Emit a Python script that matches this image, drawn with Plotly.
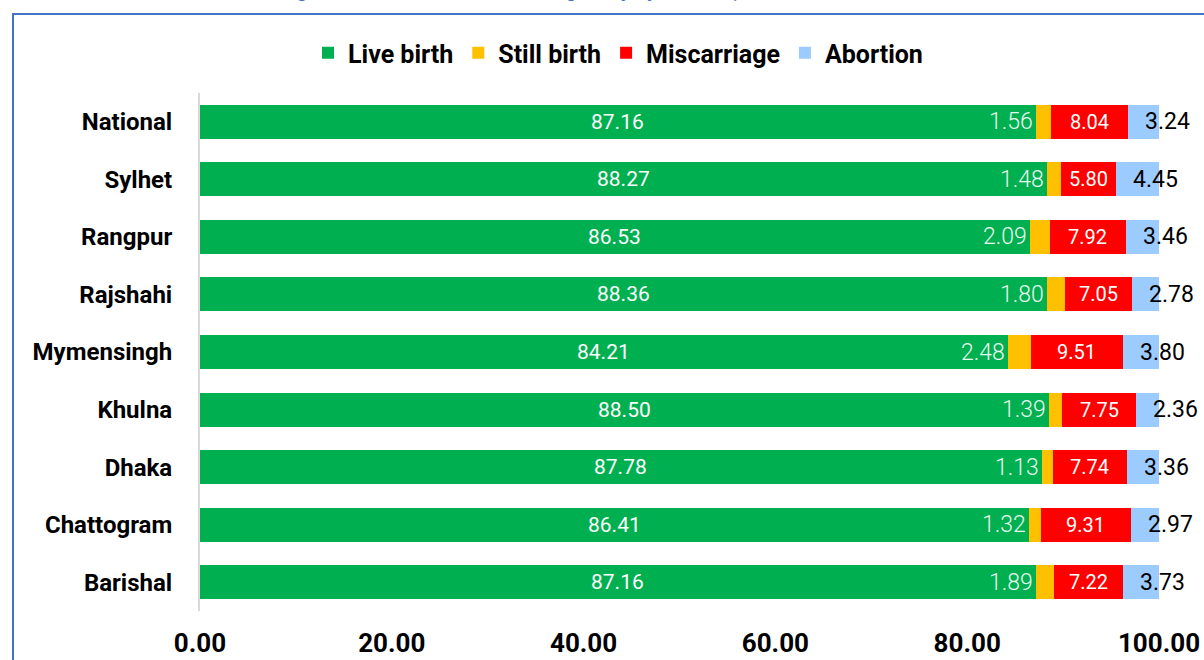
import plotly.graph_objects as go

# Pregnancy outcome shares (%) by division
divisions = ["National", "Sylhet", "Rangpur", "Rajshahi", "Mymensingh",
             "Khulna", "Dhaka", "Chattogram", "Barishal"]
live_birth = [87.16, 88.27, 86.53, 88.36, 84.21, 88.50, 87.78, 86.41, 87.16]
still_birth = [1.56, 1.48, 2.09, 1.80, 2.48, 1.39, 1.13, 1.32, 1.89]
miscarriage = [8.04, 5.80, 7.92, 7.05, 9.51, 7.75, 7.74, 9.31, 7.22]
abortion = [3.24, 4.45, 3.46, 2.78, 3.80, 2.36, 3.36, 2.97, 3.73]

x_ticks = [0, 20, 40, 60, 80, 100]
title_text = "Figure 4.2: Outcome of Last Pregnancy by Division, 2022"

GREEN, YELLOW, RED, BLUE = "#00B050", "#FFC000", "#FF0000", "#9BCBFF"
FONT = "Roboto, 'Liberation Sans Narrow', Arial, sans-serif"

W, H = 1204, 660
ML, MR, MT, MB = 200, 45, 93, 49
PW, PH = W - ML - MR, H - MT - MB


def px_x(p):
    return (p - ML) / PW


def px_y(p):
    return 1 + (MT - p) / PH


fig = go.Figure()

fig.add_bar(name="Live birth", y=divisions, x=live_birth, orientation="h",
            marker=dict(color=GREEN, line=dict(width=0)))
fig.add_bar(name="Still birth", y=divisions, x=still_birth, orientation="h",
            marker=dict(color=YELLOW, line=dict(width=0)))
fig.add_bar(name="Miscarriage", y=divisions, x=miscarriage, orientation="h",
            marker=dict(color=RED, line=dict(width=0)))
fig.add_bar(name="Abortion", y=divisions, x=abortion, orientation="h",
            marker=dict(color=BLUE, line=dict(width=0)))

annotations = []
for d, lb, sb, mc, ab in zip(divisions, live_birth, still_birth, miscarriage, abortion):
    # live-birth value centred in its segment
    annotations.append(dict(
        x=lb / 2, y=d, xref="x", yref="y", text=f"{lb:.2f}", showarrow=False,
        xanchor="center", font=dict(size=21, color="white", family=FONT),
    ))
    # still-birth value sits just left of its thin segment
    annotations.append(dict(
        x=lb, y=d, xref="x", yref="y", text=f"{sb:.2f}", showarrow=False,
        xanchor="right", xshift=-1,
        font=dict(size=23, color="#E8F7EE", family=FONT, weight=300),
    ))
    # miscarriage value centred in its segment
    annotations.append(dict(
        x=lb + sb + mc / 2, y=d, xref="x", yref="y", text=f"{mc:.2f}",
        showarrow=False, xanchor="center",
        font=dict(size=20, color="white", family=FONT),
    ))
    # abortion value starts inside its segment and runs past the bar end
    annotations.append(dict(
        x=lb + sb + mc, y=d, xref="x", yref="y", text=f"{ab:.2f}",
        showarrow=False, xanchor="left", xshift=15,
        font=dict(size=23, color="black", family=FONT),
    ))

# heading, mostly above the visible page
annotations.append(dict(
    x=px_x(278), y=px_y(4), xref="paper", yref="paper", text=title_text,
    showarrow=False, xanchor="left", yanchor="bottom",
    font=dict(size=20, color="#4472C4", family=FONT, weight="bold"),
))

fig.update_layout(
    width=W, height=H,
    margin=dict(l=ML, r=MR, t=MT, b=MB, pad=0, autoexpand=False),
    barmode="stack", bargap=0.41,
    plot_bgcolor="white", paper_bgcolor="white",
    font=dict(family=FONT, color="black"),
    showlegend=True,
    legend=dict(
        orientation="h", x=px_x(618), xanchor="center", y=px_y(30), yanchor="top",
        font=dict(size=25, color="black", family=FONT, weight="bold"),
        traceorder="normal", itemwidth=30,
    ),
    xaxis=dict(
        range=[0, 100], tickvals=x_ticks,
        ticktext=[f"{v:.2f}" for v in x_ticks],
        showgrid=False, zeroline=False, showline=False, automargin=False,
        ticks="outside", ticklen=9, tickcolor="rgba(0,0,0,0)",
        tickfont=dict(size=26, color="black", family=FONT, weight="bold"),
    ),
    yaxis=dict(
        autorange="reversed", showgrid=False, zeroline=False, automargin=False,
        showline=True, linecolor="#D9D9D9", linewidth=2,
        ticks="outside", ticklen=21, tickcolor="rgba(0,0,0,0)",
        tickfont=dict(size=24, color="black", family=FONT, weight="bold"),
    ),
    annotations=annotations,
    shapes=[dict(
        type="rect", xref="paper", yref="paper",
        x0=px_x(13), x1=px_x(1300), y0=px_y(800), y1=px_y(14),
        line=dict(color="#4472C4", width=2), layer="below",
    )],
)

fig.write_html("out.html")
